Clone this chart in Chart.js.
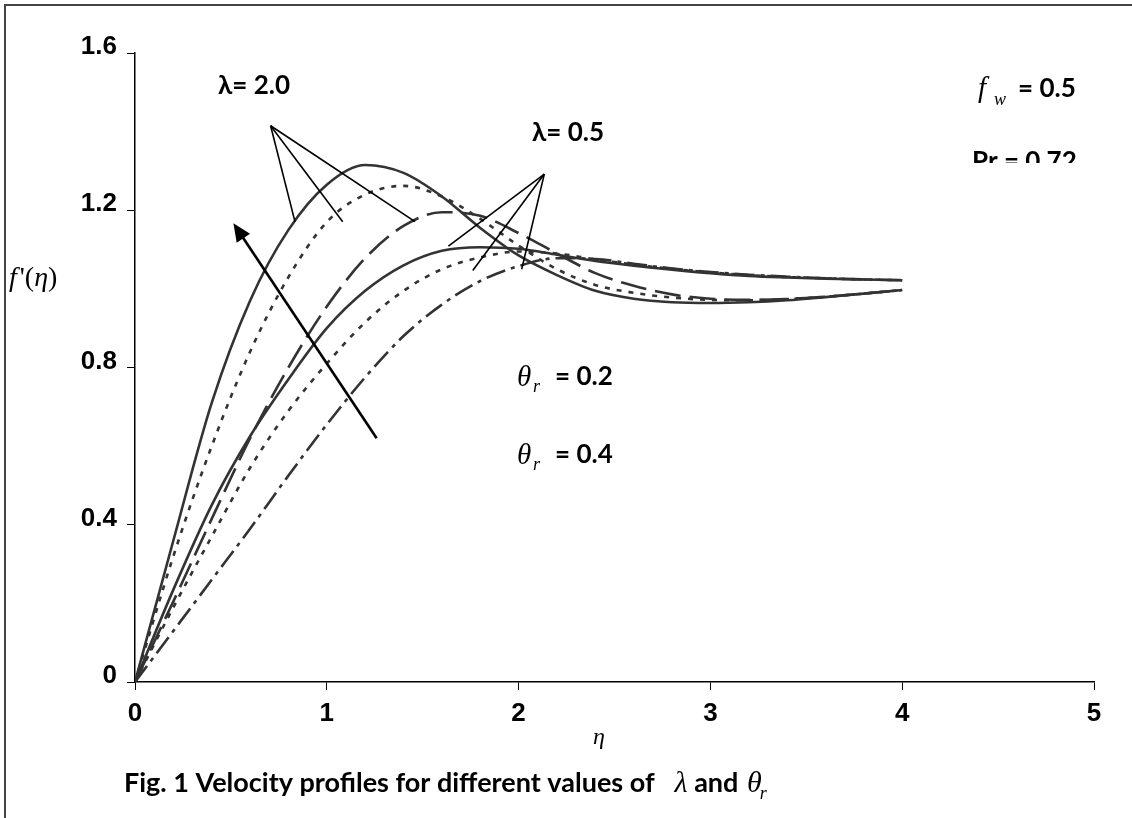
<!DOCTYPE html>
<html>
<head>
<meta charset="utf-8">
<script src="https://cdn.jsdelivr.net/npm/chart.js@4.4.1/dist/chart.umd.min.js"></script>
<style>
  html, body { margin: 0; padding: 0; background: #fff; }
  #wrap { position: relative; width: 1132px; height: 818px; }
</style>
</head>
<body>
<div id="wrap"><canvas id="myChart" width="1132" height="818"></canvas></div>
<script>
// eta values (x axis)
var eta = [0, 0.2, 0.4, 0.6, 0.8, 1.0, 1.2, 1.4, 1.6, 1.8, 2.0,
           2.2, 2.4, 2.6, 2.8, 3.0, 3.2, 3.4, 3.6, 3.8, 4.0];

// lambda = 2.0 group
var lam2_solid  = [0, 0.36, 0.71, 0.97, 1.15, 1.265, 1.315, 1.295, 1.235, 1.155, 1.085,
                   1.035, 0.995, 0.975, 0.966, 0.964, 0.966, 0.971, 0.979, 0.988, 0.997];
var lam2_dotted = [0, 0.32, 0.60, 0.84, 1.03, 1.17, 1.24, 1.262, 1.235, 1.178, 1.11,
                   1.05, 1.01, 0.99, 0.978, 0.972, 0.971, 0.974, 0.98, 0.988, 0.997];
var lam2_dashed = [0, 0.205, 0.415, 0.62, 0.80, 0.955, 1.078, 1.16, 1.195, 1.186, 1.142,
                   1.09, 1.04, 1.008, 0.986, 0.975, 0.972, 0.974, 0.98, 0.988, 0.997];

// lambda = 0.5 group
var lam05_solid   = [0, 0.235, 0.45, 0.625, 0.77, 0.90, 0.995, 1.06, 1.097, 1.106, 1.102,
                     1.087, 1.071, 1.059, 1.049, 1.04, 1.033, 1.029, 1.026, 1.024, 1.022];
var lam05_dotted  = [0, 0.19, 0.37, 0.545, 0.69, 0.81, 0.915, 0.995, 1.05, 1.08, 1.095,
                     1.09, 1.075, 1.062, 1.051, 1.042, 1.035, 1.03, 1.027, 1.024, 1.022];
var lam05_dashdot = [0, 0.13, 0.26, 0.39, 0.525, 0.655, 0.775, 0.88, 0.96, 1.02, 1.058,
                     1.078, 1.076, 1.064, 1.052, 1.043, 1.036, 1.031, 1.027, 1.024, 1.022];

var xTicks = [0, 1, 2, 3, 4, 5];
var yTicks = [0, 0.4, 0.8, 1.2, 1.6];

var lineColor = '#333333';

function pts(vals) {
    return eta.map(function (e, i) { return { x: e, y: vals[i] }; });
}

function ds(label, vals, dash) {
    return {
        label: label,
        data: pts(vals),
        borderColor: lineColor,
        borderWidth: 2.6,
        borderDash: dash,
        pointRadius: 0,
        cubicInterpolationMode: 'monotone',
        fill: false
    };
}

var boldFont = '"Lato", "Open Sans", sans-serif';
var serif = '"Liberation Serif", "DejaVu Serif", serif';

// extra drawing: frame, labels, pointers, arrow, caption
var decor = {
    id: 'decor',
    beforeDraw: function (chart) {
        var c = chart.ctx;
        c.save();
        c.fillStyle = '#fff';
        c.fillRect(0, 0, chart.width, chart.height);
        c.restore();
    },
    afterDraw: function (chart) {
        var c = chart.ctx;
        var sx = chart.scales.x, sy = chart.scales.y;
        function X(v) { return sx.getPixelForValue(v); }
        function Y(v) { return sy.getPixelForValue(v); }

        c.save();
        // frame (left and top only visible)
        c.strokeStyle = '#444';
        c.lineWidth = 2;
        c.beginPath();
        c.moveTo(5, 818);
        c.lineTo(5, 5);
        c.lineTo(1132, 5);
        c.stroke();

        // pointer lines
        c.strokeStyle = '#000';
        c.lineWidth = 1.6;
        var p1 = [0.707, 1.415];
        [[0.834, 1.171], [1.083, 1.171], [1.46, 1.171]].forEach(function (e) {
            c.beginPath();
            c.moveTo(X(p1[0]), Y(p1[1]));
            c.lineTo(X(e[0]), Y(e[1]));
            c.stroke();
        });
        var p2 = [2.134, 1.292];
        [[1.634, 1.109], [1.761, 1.047], [2.016, 1.050]].forEach(function (e) {
            c.beginPath();
            c.moveTo(X(p2[0]), Y(p2[1]));
            c.lineTo(X(e[0]), Y(e[1]));
            c.stroke();
        });

        // arrow
        var ax0 = X(1.26), ay0 = Y(0.62), ax1 = X(0.513), ay1 = Y(1.167);
        var ang = Math.atan2(ay1 - ay0, ax1 - ax0);
        c.lineWidth = 2.6;
        c.beginPath();
        c.moveTo(ax0, ay0);
        c.lineTo(ax1 - 12 * Math.cos(ang), ay1 - 12 * Math.sin(ang));
        c.stroke();
        c.fillStyle = '#000';
        c.beginPath();
        c.moveTo(ax1, ay1);
        c.lineTo(ax1 - 18 * Math.cos(ang) + 8 * Math.sin(ang), ay1 - 18 * Math.sin(ang) - 8 * Math.cos(ang));
        c.lineTo(ax1 - 18 * Math.cos(ang) - 8 * Math.sin(ang), ay1 - 18 * Math.sin(ang) + 8 * Math.cos(ang));
        c.closePath();
        c.fill();

        // texts
        var bold = 'bold 26px ' + boldFont;
        var serifI = 'italic 29px ' + serif;
        var serifS = 'italic 18px ' + serif;
        c.fillStyle = '#000';
        c.textAlign = 'left';

        c.font = bold;
        c.textBaseline = 'middle';
        c.fillText('\u03bb= 2.0', 218, 86);
        c.fillText('\u03bb= 0.5', 532, 133);

        // f_w = 0.5
        c.textBaseline = 'alphabetic';
        c.font = serifI;
        c.fillText('f', 978, 97);
        c.font = serifS;
        c.fillText('w', 994, 105);
        c.font = bold;
        c.textBaseline = 'middle';
        c.fillText('= 0.5', 1018, 89);

        // Pr = 0.72 (cut off in the original)
        c.save();
        c.beginPath();
        c.rect(900, 140, 232, 23);
        c.clip();
        c.fillText('Pr = 0.72', 972, 162);
        c.restore();

        // theta_r labels
        [[0.2, 377], [0.4, 455]].forEach(function (t) {
            c.textBaseline = 'alphabetic';
            c.font = serifI;
            c.fillText('\u03b8', 517, t[1] + 9);
            c.font = serifS;
            c.fillText('r', 533, t[1] + 15);
            c.font = bold;
            c.textBaseline = 'middle';
            c.fillText('= ' + t[0].toFixed(1), 555, t[1]);
        });

        // y axis title f'(eta)
        c.textBaseline = 'alphabetic';
        var tx = 9, ty = 286;
        c.font = 'italic 28px ' + serif;
        c.fillText('f', tx, ty); tx += c.measureText('f').width + 3;
        c.font = '28px ' + serif;
        c.fillText("'(", tx, ty); tx += c.measureText("'(").width;
        c.font = 'italic 28px ' + serif;
        c.fillText('\u03b7', tx, ty); tx += c.measureText('\u03b7').width;
        c.font = '28px ' + serif;
        c.fillText(')', tx, ty);

        // x axis title
        c.font = 'italic 24px ' + serif;
        c.textAlign = 'center';
        c.fillText('\u03b7', 599, 744);

        // caption
        c.textAlign = 'left';
        var cx = 124, cy = 792;
        var capText = 'Fig. 1 Velocity profiles for different values of';
        c.font = 'bold 27px ' + boldFont;
        c.fillText(capText, cx, cy);
        cx += c.measureText(capText).width + 20;
        c.font = 'italic 30px ' + serif;
        c.fillText('\u03bb', cx, cy); cx += c.measureText('\u03bb').width;
        c.font = 'bold 27px ' + boldFont;
        c.fillText(' and ', cx, cy); cx += c.measureText(' and ').width + 2;
        c.font = 'italic 30px ' + serif;
        c.fillText('\u03b8', cx, cy); cx += c.measureText('\u03b8').width - 2;
        c.font = 'italic 18px ' + serif;
        c.fillText('r', cx, cy + 7);
        c.restore();
    }
};

var ctx = document.getElementById('myChart');
var myChart = new Chart(ctx, {
    type: 'line',
    data: {
        datasets: [
            ds('lambda 2.0 solid', lam2_solid, []),
            ds('lambda 2.0 dotted', lam2_dotted, [5, 7]),
            ds('lambda 2.0 dashed', lam2_dashed, [26, 9]),
            ds('lambda 0.5 solid', lam05_solid, []),
            ds('lambda 0.5 dotted', lam05_dotted, [5, 7]),
            ds('lambda 0.5 dash-dot', lam05_dashdot, [20, 6, 4, 6])
        ]
    },
    options: {
        responsive: false,
        animation: false,
        devicePixelRatio: 1,
        layout: { padding: { top: 53, right: 38, bottom: 0, left: 0 } },
        plugins: { legend: { display: false }, tooltip: { enabled: false } },
        scales: {
            x: {
                type: 'linear',
                min: 0, max: 5,
                afterBuildTicks: function (axis) {
                    axis.ticks = xTicks.map(function (v) { return { value: v }; });
                },
                afterFit: function (axis) { axis.height = 136; },
                grid: { display: true, drawOnChartArea: false, drawTicks: true, tickLength: 8, color: '#000', lineWidth: 1 },
                border: { display: true, color: '#000', width: 1.5 },
                ticks: {
                    color: '#000',
                    padding: 8,
                    maxRotation: 0,
                    font: { family: '"Liberation Sans", Arial, sans-serif', size: 26, weight: 'bold' },
                    callback: function (v) { return String(v); }
                }
            },
            y: {
                type: 'linear',
                min: 0, max: 1.6,
                afterBuildTicks: function (axis) {
                    axis.ticks = yTicks.map(function (v) { return { value: v }; });
                },
                afterFit: function (axis) { axis.width = 135; },
                grid: { display: true, drawOnChartArea: false, drawTicks: true, tickLength: 8, color: '#000', lineWidth: 1 },
                border: { display: true, color: '#000', width: 1.5 },
                ticks: {
                    color: '#000',
                    padding: 10,
                    labelOffset: -6,
                    font: { family: '"Liberation Sans", Arial, sans-serif', size: 26, weight: 'bold' },
                    callback: function (v) { return v === 0 ? '0' : v.toFixed(1); }
                }
            }
        }
    },
    plugins: [decor]
});
</script>
</body>
</html>
